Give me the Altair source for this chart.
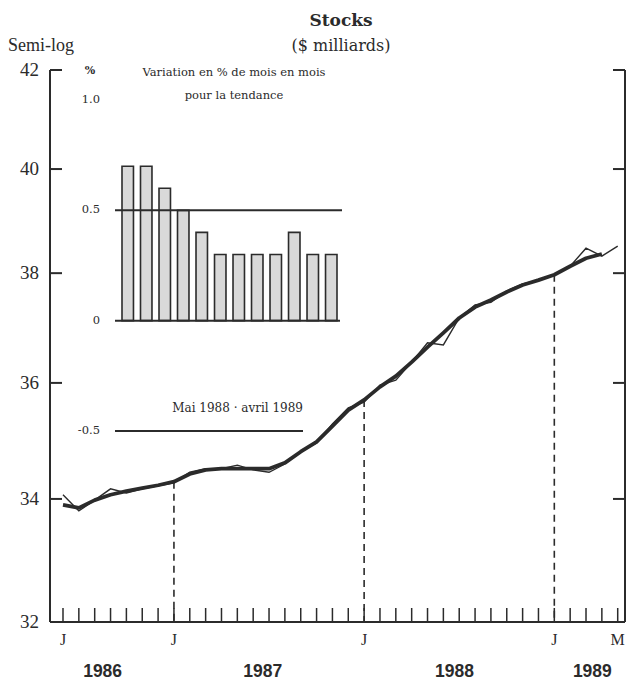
import altair as alt
import pandas as pd

# ---------------- data ----------------
months = [d.strftime("%Y-%m") for d in pd.date_range("1986-06-01", "1989-05-01", freq="MS")]
actual = [34.07, 33.80, 33.98, 34.17, 34.10, 34.17, 34.22, 34.27, 34.45, 34.51, 34.51, 34.57,
          34.49, 34.45, 34.59, 34.80, 34.95, 35.28, 35.56, 35.66, 35.96, 36.05, 36.37, 36.72,
          36.68, 37.17, 37.41, 37.46, 37.67, 37.80, 37.87, 37.97, 38.13, 38.47, 38.32, 38.51]
trend = [33.90, 33.85, 33.98, 34.07, 34.13, 34.18, 34.23, 34.29, 34.42, 34.49, 34.51, 34.51,
         34.51, 34.51, 34.61, 34.80, 34.97, 35.24, 35.52, 35.70, 35.93, 36.12, 36.37, 36.64,
         36.90, 37.17, 37.37, 37.50, 37.65, 37.78, 37.87, 37.97, 38.13, 38.28, 38.36, None]

y_ticks = [32, 34, 36, 38, 40, 42]
x_label_t = [0, 7, 19, 31, 35]
x_label_text = ["J", "J", "J", "J", "M"]
year_text = ["1986", "1987", "1988", "1989"]
year_t = [2.5, 12.6, 24.7, 33.4]
jan_t = [7, 19, 31]

bar_months = ["mai", "juin", "juil", "août", "sept", "oct", "nov", "déc", "janv", "févr", "mars", "avr"]
bar_values = [0.7, 0.7, 0.6, 0.5, 0.4, 0.3, 0.3, 0.3, 0.3, 0.4, 0.3, 0.3]
inset_ticks = [1.0, 0.5, 0.0, -0.5]
inset_tick_text = ["1.0", "0.5", "0", "-0.5"]

# ---------------- tables ----------------
df = pd.DataFrame({"mois": months, "t": list(range(len(months))), "actual": actual, "trend": trend})
ytick_df = pd.DataFrame({"v": y_ticks, "lab": [str(v) for v in y_ticks]})
xlab_df = pd.DataFrame({"t": x_label_t, "lab": x_label_text})
year_df = pd.DataFrame({"t": year_t, "lab": year_text})
bar_df = pd.DataFrame({"mois": bar_months, "val": bar_values})
ilab_df = pd.DataFrame({"v": inset_ticks, "lab": inset_tick_text})
one = pd.DataFrame({"k": [0]})

W, H = 575, 552
INK = "#2b2b2b"
SERIF = "DejaVu Serif"
TSERIF = "Liberation Serif"
SANS = "Liberation Sans"

xs = alt.Scale(domain=[-0.82, 35.46], nice=False, zero=False)
ys = alt.Scale(type="log", domain=[32, 42], nice=False)

X = lambda f: alt.X(f, scale=xs, axis=None)
Y = lambda f: alt.Y(f, scale=ys, axis=None)

line_trend = alt.Chart(df).mark_line(color=INK, strokeWidth=3.8, strokeJoin="round").encode(
    x=X("t:Q"), y=Y("trend:Q"))
line_actual = alt.Chart(df).mark_line(color=INK, strokeWidth=1.4).encode(
    x=X("t:Q"), y=Y("actual:Q"))

dashed = alt.Chart(df).transform_filter(
    alt.FieldOneOfPredicate(field="t", oneOf=jan_t)
).mark_rule(color=INK, strokeWidth=1.6, strokeDash=[7, 5]).encode(
    x=X("t:Q"), y=Y("trend:Q"), y2=alt.value(H))

mticks = alt.Chart(df).mark_rule(color=INK, strokeWidth=1.5).encode(
    x=X("t:Q"), y=alt.value(H - 14), y2=alt.value(H))

ytick_l = alt.Chart(ytick_df).mark_rule(color=INK, strokeWidth=2).encode(
    x=alt.value(0), x2=alt.value(12), y=Y("v:Q"))
ytick_r = alt.Chart(ytick_df).mark_rule(color=INK, strokeWidth=2).encode(
    x=alt.value(W - 12), x2=alt.value(W), y=Y("v:Q"))

frame_l = alt.Chart(one).mark_rule(color=INK, strokeWidth=2).encode(
    x=alt.value(0), y=alt.value(0), y2=alt.value(H))
frame_r = alt.Chart(one).mark_rule(color=INK, strokeWidth=2).encode(
    x=alt.value(W), y=alt.value(0), y2=alt.value(H))
frame_b = alt.Chart(one).mark_rule(color=INK, strokeWidth=2).encode(
    x=alt.value(0), x2=alt.value(W), y=alt.value(H))

ylabels = alt.Chart(ytick_df).mark_text(
    align="right", baseline="middle", font=TSERIF, fontSize=19, color=INK
).encode(x=alt.value(-11), y=Y("v:Q"), text="lab:N")

xlabels = alt.Chart(xlab_df).mark_text(
    align="center", baseline="middle", font=TSERIF, fontSize=16, color=INK
).encode(x=X("t:Q"), y=alt.value(570), text="lab:N")

ylabels_year = alt.Chart(year_df).mark_text(
    align="center", baseline="middle", font=SANS, fontSize=17.5, fontWeight="bold", color=INK
).encode(x=X("t:Q"), y=alt.value(602), text="lab:N")

def label(txt, x, y, size, weight="normal", align="center", font=SERIF):
    return alt.Chart(one).mark_text(
        text=txt, align=align, baseline="middle", font=font, fontSize=size,
        fontWeight=weight, color=INK
    ).encode(x=alt.value(x), y=alt.value(y))

title1 = label("Stocks", 291, -49, 17, "bold")
title2 = label("($ milliards)", 291, -24, 16)
semilog = label("Semi-log", -42, -24, 18, align="left", font=TSERIF)

main = alt.layer(line_trend, line_actual, dashed, mticks, ytick_l, ytick_r,
                 frame_l, frame_r, frame_b, ylabels, xlabels, ylabels_year,
                 title1, title2, semilog)

# ---------------- inset ----------------
xb = alt.Scale(range=[72, 287], paddingInner=0.38, paddingOuter=0)
yb = alt.Scale(domain=[-0.5, 1.0], range=[361, 30], nice=False)

bars = alt.Chart(bar_df).mark_bar(fill="#d9d9d9", stroke=INK, strokeWidth=1.6).encode(
    x=alt.X("mois:N", sort=None, scale=xb, axis=None),
    y=alt.Y("val:Q", scale=yb, axis=None),
    y2=alt.datum(0),
)

def hline(level, x1, x2, w=2):
    return alt.Chart(one).mark_rule(color=INK, strokeWidth=w).encode(
        x=alt.value(x1), x2=alt.value(x2), y=alt.YDatum(level, scale=yb, axis=None))

r05 = hline(0.5, 65, 292)
r0 = hline(0.0, 65, 290)
rm05 = hline(-0.5, 65, 253)

ilabels = alt.Chart(ilab_df).mark_text(
    align="right", baseline="middle", font=SERIF, fontSize=11.5, color=INK
).encode(x=alt.value(50), y=alt.Y("v:Q", scale=yb, axis=None), text="lab:N")

pct = label("%", 40, 1, 11, "bold")
it1 = label("Variation en % de mois en mois", 184, 3, 11.5)
it2 = label("pour la tendance", 184, 26, 11.5)
per = label("Mai 1988 · avril 1989", 253, 338, 12, align="right")

inset = alt.layer(bars, r05, r0, rm05, ilabels, pct, it1, it2, per)

chart = alt.layer(main, inset).resolve_scale(
    x="independent", y="independent"
).properties(
    width=W, height=H,
    autosize=alt.AutoSizeParams(type="none"),
    padding={"left": 42, "top": 62, "right": 2, "bottom": 58},
    background="white",
).configure_view(stroke=None)

chart.save("out.html", embed_options={"renderer": "svg", "actions": False})
